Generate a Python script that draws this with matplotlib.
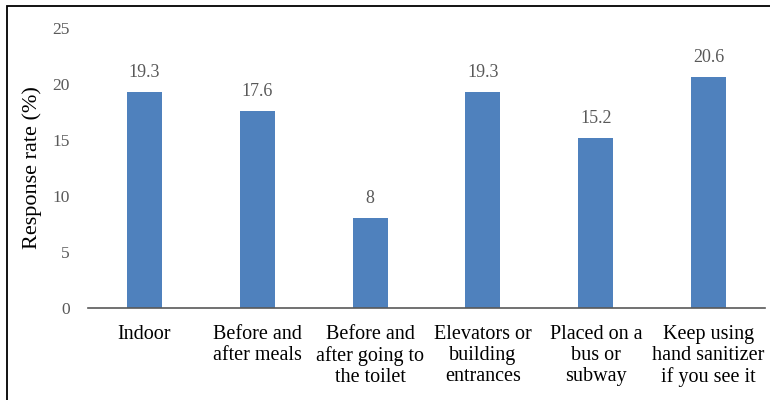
import matplotlib
matplotlib.use("Agg")
import matplotlib.pyplot as plt
from matplotlib.patches import Rectangle

categories = ["Indoor", "Before and\nafter meals", "Before and\nafter going to\nthe toilet",
              "Elevators or\nbuilding\nentrances", "Placed on a\nbus or\nsubway",
              "Keep using\nhand sanitizer\nif you see it"]
values = [19.3, 17.6, 8, 19.3, 15.2, 20.6]
value_labels = ["19.3", "17.6", "8", "19.3", "15.2", "20.6"]
yticks = [0, 5, 10, 15, 20, 25]

plt.rcParams['font.family'] = ['Liberation Serif', 'DejaVu Serif']

fig = plt.figure(figsize=(7.7, 4.0), dpi=100)
ax = fig.add_axes([88/770, 1 - 308/400, 677/770, 280/400])

x = range(len(categories))
ax.bar(x, values, width=0.31, color='#4F81BD', zorder=2)
for xi, v, lab in zip(x, values, value_labels):
    ax.annotate(lab, (xi, v), xytext=(0, 8), textcoords='offset points',
                ha='center', va='bottom', fontsize=13, color='#595959')

ax.set_xlim(-0.5, len(categories) - 0.5)
ax.set_ylim(0, 25)
ax.set_yticks(yticks)
ax.set_yticklabels([str(t) for t in yticks], fontsize=12.5, color='#595959')
ax.set_xticks(list(x))
ax.set_xticklabels(categories, fontsize=14.5, color='black', linespacing=1.17, va='top')
ax.tick_params(axis='both', length=0)
ax.tick_params(axis='x', pad=12)
ax.tick_params(axis='y', pad=13)
ax.set_ylabel("Response rate (%)", fontsize=16)
ax.yaxis.set_label_coords(-0.068, 0.5)

for s in ['top', 'right', 'left']:
    ax.spines[s].set_visible(False)
ax.spines['bottom'].set_color('#595959')
ax.spines['bottom'].set_linewidth(1.2)

# outer frame (left and top edges visible in the reference)
fig.patches.append(Rectangle((7/770, -0.5), 2.0, 1.5 - 6/400, transform=fig.transFigure,
                             fill=False, edgecolor='black', linewidth=1.3))

fig.savefig('out.png', dpi=100)
